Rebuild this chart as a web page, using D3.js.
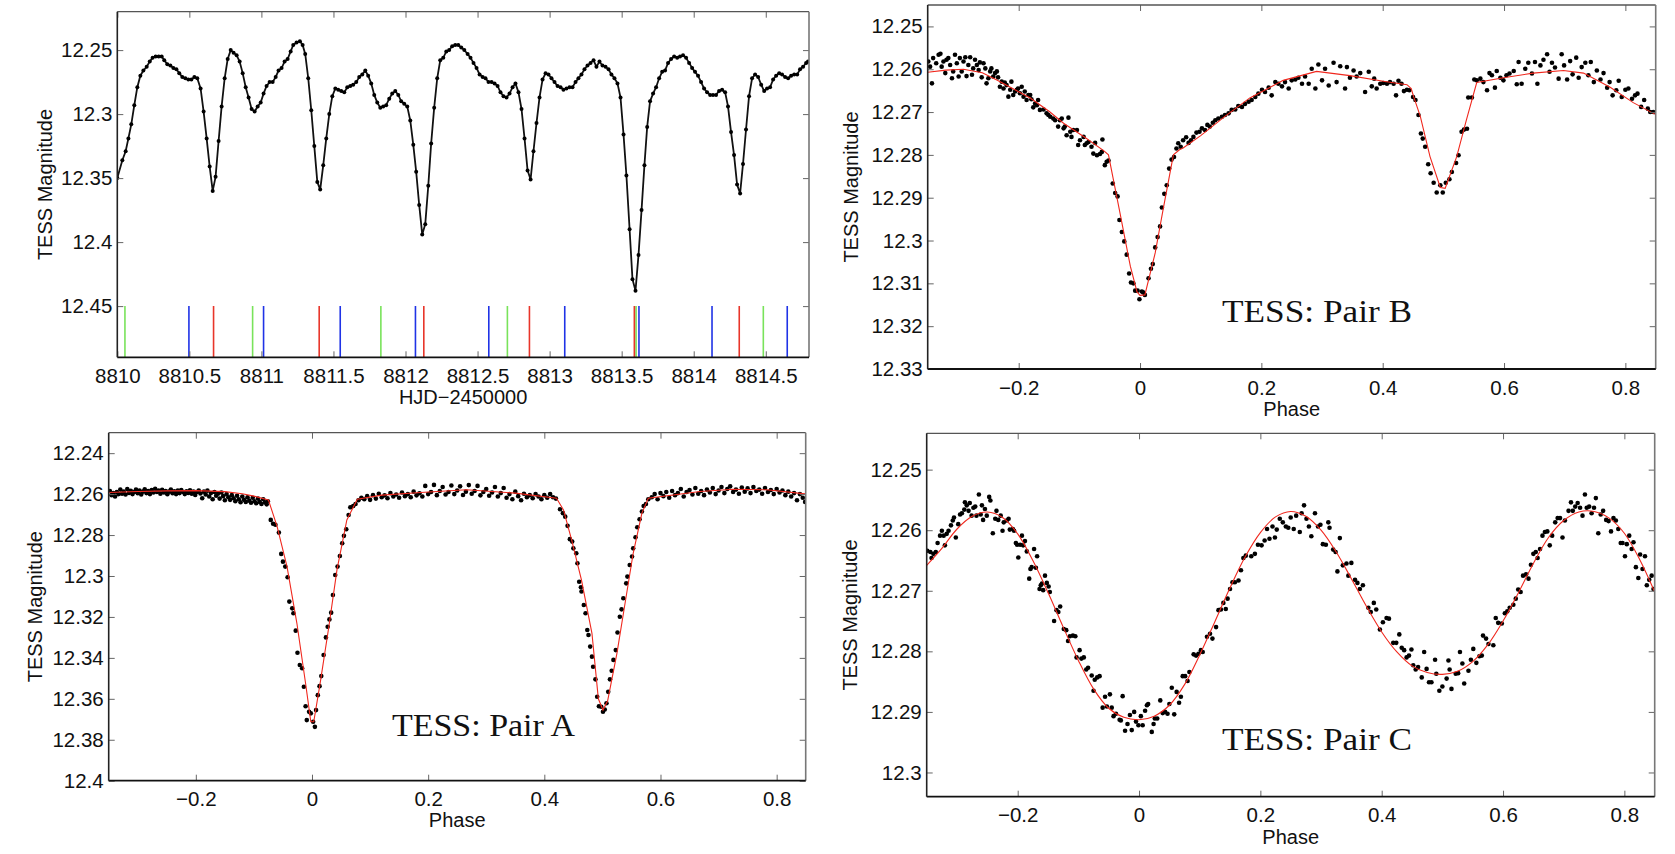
<!DOCTYPE html>
<html><head><meta charset="utf-8">
<script src="https://cdn.jsdelivr.net/npm/d3@7"></script>
<style>body{margin:0;background:#fff}svg{display:block}</style>
</head><body><svg id="c" width="1675" height="854"></svg>
<script>
// ---------- Top-left: light curve ----------
const lcTime = [8810.000,8810.035,8810.058,8810.077,8810.097,8810.118,8810.139,8810.160,8810.181,8810.204,8810.225,8810.245,8810.266,8810.287,8810.308,8810.326,8810.347,8810.368,8810.389,8810.410,8810.430,8810.451,8810.472,8810.493,8810.514,8810.535,8810.555,8810.578,8810.599,8810.620,8810.641,8810.662,8810.682,8810.703,8810.724,8810.745,8810.766,8810.787,8810.807,8810.828,8810.849,8810.870,8810.891,8810.911,8810.932,8810.953,8810.974,8810.995,8811.015,8811.036,8811.057,8811.078,8811.099,8811.119,8811.140,8811.161,8811.182,8811.203,8811.221,8811.244,8811.267,8811.286,8811.304,8811.325,8811.346,8811.367,8811.388,8811.408,8811.429,8811.450,8811.471,8811.492,8811.513,8811.533,8811.554,8811.575,8811.596,8811.617,8811.637,8811.658,8811.679,8811.700,8811.721,8811.741,8811.762,8811.783,8811.804,8811.825,8811.845,8811.866,8811.887,8811.908,8811.929,8811.950,8811.970,8811.991,8812.012,8812.033,8812.054,8812.074,8812.095,8812.116,8812.137,8812.158,8812.178,8812.199,8812.220,8812.241,8812.262,8812.283,8812.303,8812.324,8812.345,8812.366,8812.387,8812.408,8812.431,8812.451,8812.472,8812.493,8812.514,8812.535,8812.555,8812.576,8812.597,8812.618,8812.639,8812.659,8812.680,8812.701,8812.722,8812.743,8812.763,8812.784,8812.805,8812.826,8812.847,8812.868,8812.888,8812.909,8812.930,8812.951,8812.972,8812.992,8813.013,8813.034,8813.055,8813.076,8813.096,8813.117,8813.138,8813.159,8813.180,8813.200,8813.221,8813.242,8813.263,8813.284,8813.305,8813.325,8813.346,8813.367,8813.388,8813.409,8813.429,8813.450,8813.471,8813.492,8813.513,8813.533,8813.555,8813.575,8813.596,8813.617,8813.638,8813.658,8813.677,8813.697,8813.718,8813.739,8813.760,8813.781,8813.801,8813.822,8813.843,8813.864,8813.885,8813.905,8813.926,8813.947,8813.968,8813.989,8814.009,8814.030,8814.051,8814.072,8814.093,8814.114,8814.134,8814.155,8814.176,8814.197,8814.218,8814.238,8814.259,8814.280,8814.301,8814.322,8814.342,8814.363,8814.384,8814.405,8814.426,8814.447,8814.468,8814.489,8814.509,8814.530,8814.551,8814.572,8814.593,8814.613,8814.634,8814.655,8814.676,8814.697,8814.718,8814.738,8814.759,8814.780,8814.793];
const lcMag = [12.350,12.336,12.329,12.319,12.308,12.293,12.279,12.270,12.266,12.263,12.259,12.256,12.255,12.255,12.255,12.258,12.261,12.262,12.264,12.265,12.268,12.271,12.272,12.273,12.273,12.271,12.272,12.280,12.298,12.319,12.341,12.360,12.349,12.321,12.294,12.272,12.257,12.250,12.252,12.254,12.259,12.268,12.279,12.287,12.296,12.298,12.294,12.291,12.284,12.278,12.275,12.275,12.271,12.266,12.264,12.259,12.257,12.251,12.246,12.244,12.243,12.246,12.253,12.272,12.297,12.325,12.353,12.359,12.340,12.319,12.300,12.286,12.280,12.281,12.282,12.283,12.279,12.278,12.277,12.275,12.271,12.269,12.266,12.270,12.276,12.285,12.291,12.295,12.294,12.293,12.288,12.284,12.282,12.285,12.290,12.292,12.294,12.305,12.324,12.345,12.371,12.394,12.386,12.356,12.323,12.295,12.272,12.258,12.256,12.251,12.250,12.247,12.246,12.246,12.248,12.250,12.253,12.256,12.260,12.264,12.269,12.271,12.272,12.275,12.275,12.276,12.278,12.283,12.286,12.287,12.284,12.279,12.276,12.283,12.296,12.319,12.344,12.351,12.329,12.307,12.287,12.273,12.268,12.269,12.272,12.275,12.278,12.279,12.281,12.280,12.279,12.279,12.275,12.272,12.269,12.265,12.262,12.260,12.258,12.263,12.259,12.262,12.263,12.265,12.269,12.272,12.276,12.287,12.316,12.348,12.390,12.429,12.438,12.410,12.375,12.340,12.310,12.290,12.284,12.279,12.272,12.267,12.266,12.260,12.257,12.255,12.256,12.255,12.254,12.256,12.260,12.264,12.267,12.270,12.275,12.280,12.283,12.285,12.285,12.285,12.282,12.281,12.283,12.294,12.314,12.332,12.355,12.362,12.339,12.312,12.286,12.272,12.269,12.271,12.277,12.282,12.280,12.279,12.273,12.270,12.268,12.269,12.271,12.272,12.270,12.269,12.269,12.265,12.263,12.260,12.259];
const eclGreen = [8810.053,8810.939,8811.829,8812.707,8813.600,8814.483];
const eclBlue = [8810.497,8811.015,8811.547,8812.069,8812.578,8813.105,8813.620,8814.127,8814.649];
const eclRed = [8810.668,8811.401,8812.127,8812.860,8813.588,8814.316];
const lcXTicks = [8810,8810.5,8811,8811.5,8812,8812.5,8813,8813.5,8814,8814.5];
const lcXLabels = ["8810","8810.5","8811","8811.5","8812","8812.5","8813","8813.5","8814","8814.5"];
const lcYTicks = [12.25,12.3,12.35,12.4,12.45];
const lcYLabels = ["12.25","12.3","12.35","12.4","12.45"];

// ---------- Phase panels ----------
const phaseTicks = [-0.2,0,0.2,0.4,0.6,0.8];
const phaseLabels = ["\u22120.2","0","0.2","0.4","0.6","0.8"];

const pairBYTicks = [12.25,12.26,12.27,12.28,12.29,12.3,12.31,12.32,12.33];
const pairBYLabels = ["12.25","12.26","12.27","12.28","12.29","12.3","12.31","12.32","12.33"];
const pairBPoints = [[-0.349,12.2582],[-0.346,12.2594],[-0.343,12.2633],[-0.341,12.2574],[-0.336,12.2586],[-0.332,12.2566],[-0.329,12.2564],[-0.327,12.2594],[-0.324,12.2582],[-0.321,12.2609],[-0.319,12.2578],[-0.316,12.2574],[-0.313,12.259],[-0.310,12.2621],[-0.308,12.2605],[-0.305,12.2566],[-0.302,12.2586],[-0.299,12.2617],[-0.297,12.2574],[-0.294,12.2605],[-0.291,12.2582],[-0.288,12.2572],[-0.286,12.2616],[-0.283,12.259],[-0.280,12.2572],[-0.277,12.2613],[-0.275,12.2598],[-0.272,12.2578],[-0.269,12.259],[-0.266,12.2602],[-0.264,12.2584],[-0.261,12.2619],[-0.258,12.2586],[-0.255,12.2598],[-0.253,12.2633],[-0.250,12.2621],[-0.247,12.2605],[-0.245,12.2598],[-0.242,12.2617],[-0.239,12.2609],[-0.236,12.2605],[-0.234,12.2619],[-0.231,12.2641],[-0.228,12.2629],[-0.225,12.2645],[-0.223,12.2631],[-0.220,12.2637],[-0.217,12.2664],[-0.214,12.2648],[-0.212,12.2629],[-0.209,12.266],[-0.206,12.2652],[-0.203,12.2648],[-0.201,12.2645],[-0.198,12.2656],[-0.195,12.2641],[-0.192,12.2664],[-0.190,12.2652],[-0.187,12.2672],[-0.184,12.266],[-0.181,12.266],[-0.179,12.267],[-0.176,12.2689],[-0.173,12.268],[-0.170,12.2684],[-0.168,12.2672],[-0.165,12.2695],[-0.159,12.2694],[-0.154,12.2703],[-0.151,12.2707],[-0.148,12.2711],[-0.143,12.2715],[-0.140,12.2719],[-0.135,12.2734],[-0.132,12.2719],[-0.129,12.2715],[-0.126,12.2738],[-0.124,12.2734],[-0.121,12.2754],[-0.118,12.2713],[-0.115,12.2746],[-0.113,12.2758],[-0.110,12.2742],[-0.104,12.2742],[-0.102,12.2777],[-0.099,12.2766],[-0.093,12.2758],[-0.091,12.2777],[-0.088,12.2773],[-0.085,12.277],[-0.080,12.2781],[-0.077,12.2797],[-0.074,12.2772],[-0.071,12.2801],[-0.066,12.2798],[-0.063,12.2793],[-0.062,12.2764],[-0.058,12.2824],[-0.055,12.2816],[-0.052,12.2813],[-0.045,12.2867],[-0.041,12.2889],[-0.037,12.2897],[-0.034,12.2952],[-0.030,12.298],[-0.026,12.3002],[-0.022,12.3033],[-0.018,12.3077],[-0.015,12.3098],[-0.011,12.31],[-0.008,12.3117],[-0.004,12.3117],[-0.001,12.3137],[0.003,12.3119],[0.005,12.3121],[0.008,12.3127],[0.014,12.3088],[0.018,12.3066],[0.021,12.3055],[0.025,12.3016],[0.029,12.2992],[0.033,12.2967],[0.036,12.2923],[0.040,12.2891],[0.044,12.2871],[0.048,12.2832],[0.052,12.2811],[0.056,12.2805],[0.060,12.2785],[0.063,12.2773],[0.067,12.2781],[0.071,12.2766],[0.076,12.2759],[0.080,12.2772],[0.084,12.2766],[0.088,12.2758],[0.093,12.2748],[0.098,12.2746],[0.102,12.2738],[0.107,12.2742],[0.111,12.273],[0.115,12.2734],[0.120,12.2725],[0.124,12.2719],[0.129,12.2715],[0.135,12.2711],[0.140,12.2707],[0.146,12.2703],[0.151,12.2695],[0.157,12.2694],[0.162,12.2686],[0.168,12.2688],[0.173,12.2681],[0.179,12.2676],[0.184,12.2672],[0.190,12.2665],[0.195,12.2657],[0.201,12.2648],[0.206,12.2653],[0.212,12.2643],[0.217,12.2661],[0.223,12.263],[0.228,12.2634],[0.234,12.264],[0.239,12.263],[0.245,12.2645],[0.250,12.2626],[0.256,12.2624],[0.261,12.262],[0.267,12.2634],[0.272,12.2617],[0.278,12.2634],[0.283,12.2599],[0.289,12.2645],[0.294,12.2589],[0.300,12.2626],[0.305,12.2599],[0.311,12.2638],[0.319,12.2585],[0.324,12.263],[0.330,12.2593],[0.338,12.2645],[0.341,12.2595],[0.346,12.262],[0.352,12.2603],[0.357,12.2617],[0.363,12.2609],[0.371,12.2653],[0.377,12.2606],[0.382,12.264],[0.386,12.2622],[0.390,12.2645],[0.396,12.2634],[0.401,12.2632],[0.407,12.2634],[0.412,12.263],[0.418,12.2634],[0.422,12.2661],[0.426,12.2627],[0.431,12.2634],[0.435,12.2651],[0.440,12.2648],[0.444,12.2649],[0.450,12.2665],[0.454,12.2672],[0.459,12.2707],[0.463,12.275],[0.466,12.2762],[0.470,12.2781],[0.475,12.2822],[0.479,12.2843],[0.484,12.2865],[0.489,12.2888],[0.495,12.2871],[0.499,12.2888],[0.504,12.2865],[0.510,12.2857],[0.514,12.284],[0.521,12.2819],[0.525,12.2801],[0.530,12.2746],[0.534,12.2741],[0.539,12.2739],[0.541,12.2666],[0.547,12.2666],[0.551,12.2624],[0.555,12.2626],[0.561,12.2622],[0.566,12.263],[0.572,12.2649],[0.576,12.2609],[0.580,12.2614],[0.585,12.2643],[0.588,12.2604],[0.594,12.262],[0.599,12.2626],[0.604,12.2614],[0.609,12.261],[0.616,12.2604],[0.621,12.2635],[0.624,12.2583],[0.629,12.2634],[0.635,12.2599],[0.640,12.2585],[0.646,12.261],[0.651,12.2583],[0.655,12.2634],[0.660,12.2591],[0.665,12.2578],[0.671,12.2565],[0.675,12.2606],[0.679,12.2585],[0.684,12.2596],[0.690,12.2622],[0.695,12.2565],[0.699,12.2591],[0.704,12.2624],[0.709,12.2581],[0.713,12.2612],[0.719,12.2573],[0.723,12.262],[0.728,12.2595],[0.734,12.2585],[0.739,12.2614],[0.743,12.2583],[0.748,12.263],[0.753,12.2603],[0.759,12.2624],[0.764,12.2609],[0.770,12.2643],[0.774,12.263],[0.779,12.2661],[0.785,12.2649],[0.789,12.2627],[0.794,12.2665],[0.800,12.2648],[0.805,12.2645],[0.811,12.2669],[0.816,12.2661],[0.820,12.2657],[0.826,12.2688],[0.831,12.2672],[0.837,12.2692],[0.841,12.27],[0.846,12.27]];
const pairBModel = [[-0.35,12.2607],[-0.32,12.2602],[-0.291,12.2600],[-0.26,12.2608],[-0.236,12.2625],[-0.21,12.2645],[-0.181,12.2667],[-0.15,12.2698],[-0.126,12.2726],[-0.09,12.2760],[-0.06,12.2790],[-0.052,12.2800],[-0.045,12.2850],[-0.033,12.2936],[-0.016,12.3060],[-0.005,12.3120],[0.0,12.3128],[0.008,12.3127],[0.025,12.3029],[0.038,12.2928],[0.055,12.2800],[0.065,12.2788],[0.071,12.2784],[0.10,12.2755],[0.14,12.2710],[0.181,12.2667],[0.236,12.2626],[0.291,12.2605],[0.346,12.2615],[0.401,12.2628],[0.440,12.2636],[0.447,12.2645],[0.451,12.2664],[0.462,12.2710],[0.478,12.2804],[0.495,12.2876],[0.503,12.2878],[0.522,12.2804],[0.538,12.2718],[0.555,12.2631],[0.599,12.2620],[0.648,12.2609],[0.698,12.2603],[0.731,12.2609],[0.775,12.2642],[0.813,12.2678],[0.850,12.2706]];

const pairAYTicks = [12.24,12.26,12.28,12.3,12.32,12.34,12.36,12.38,12.4];
const pairAYLabels = ["12.24","12.26","12.28","12.3","12.32","12.34","12.36","12.38","12.4"];
const pairAPoints = [[-0.348,12.2585],[-0.345,12.2605],[-0.342,12.2595],[-0.339,12.2612],[-0.336,12.2590],[-0.333,12.2600],[-0.330,12.2578],[-0.327,12.2598],[-0.324,12.2588],[-0.321,12.2602],[-0.318,12.2575],[-0.315,12.2594],[-0.312,12.2584],[-0.309,12.2600],[-0.306,12.2590],[-0.303,12.2578],[-0.300,12.2596],[-0.297,12.2583],[-0.294,12.2602],[-0.291,12.2588],[-0.288,12.2576],[-0.285,12.2595],[-0.282,12.2585],[-0.279,12.2600],[-0.276,12.2580],[-0.273,12.2592],[-0.270,12.2574],[-0.267,12.2590],[-0.264,12.2583],[-0.261,12.2598],[-0.258,12.2579],[-0.255,12.2592],[-0.252,12.2585],[-0.249,12.2601],[-0.246,12.2588],[-0.243,12.2578],[-0.240,12.2596],[-0.237,12.2586],[-0.234,12.2600],[-0.231,12.2583],[-0.228,12.2595],[-0.225,12.2580],[-0.222,12.2590],[-0.219,12.2600],[-0.216,12.2586],[-0.213,12.2594],[-0.210,12.2581],[-0.207,12.2598],[-0.204,12.2588],[-0.201,12.2604],[-0.198,12.2590],[-0.195,12.2582],[-0.192,12.2597],[-0.189,12.2620],[-0.186,12.2588],[-0.183,12.2602],[-0.180,12.2583],[-0.177,12.2612],[-0.174,12.2595],[-0.171,12.2625],[-0.168,12.2590],[-0.165,12.2608],[-0.162,12.2598],[-0.159,12.2622],[-0.156,12.2592],[-0.153,12.2610],[-0.150,12.2630],[-0.147,12.2600],[-0.144,12.2615],[-0.141,12.2628],[-0.138,12.2605],[-0.135,12.2620],[-0.132,12.2635],[-0.129,12.2608],[-0.126,12.2625],[-0.123,12.2640],[-0.120,12.2612],[-0.117,12.2628],[-0.114,12.2638],[-0.111,12.2615],[-0.108,12.2632],[-0.105,12.2642],[-0.102,12.2618],[-0.099,12.2635],[-0.096,12.2645],[-0.093,12.2622],[-0.090,12.2638],[-0.087,12.2648],[-0.084,12.2625],[-0.081,12.2640],[-0.078,12.2650],[-0.076,12.2635],[-0.071,12.2726],[-0.067,12.2745],[-0.063,12.2750],[-0.057,12.2788],[-0.053,12.2892],[-0.050,12.2930],[-0.046,12.2954],[-0.042,12.3006],[-0.039,12.3125],[-0.034,12.3158],[-0.032,12.3182],[-0.028,12.3267],[-0.025,12.3375],[-0.021,12.3435],[-0.017,12.3451],[-0.014,12.3541],[-0.011,12.3636],[-0.009,12.3704],[-0.005,12.3663],[-0.002,12.3671],[0.002,12.3712],[0.005,12.3737],[0.007,12.3655],[0.010,12.3582],[0.013,12.3538],[0.016,12.3489],[0.020,12.3386],[0.024,12.3300],[0.027,12.3248],[0.030,12.3212],[0.033,12.3179],[0.036,12.3093],[0.040,12.2995],[0.044,12.2954],[0.048,12.2902],[0.052,12.2840],[0.055,12.2804],[0.059,12.2772],[0.063,12.2702],[0.066,12.2664],[0.071,12.2658],[0.075,12.2648],[0.080,12.2630],[0.085,12.2618],[0.090,12.2625],[0.095,12.2610],[0.100,12.2628],[0.105,12.2605],[0.110,12.2622],[0.115,12.2598],[0.120,12.2615],[0.125,12.2606],[0.130,12.2620],[0.135,12.2595],[0.140,12.2612],[0.145,12.2602],[0.150,12.2618],[0.155,12.2592],[0.160,12.2610],[0.165,12.2600],[0.170,12.2615],[0.175,12.2588],[0.180,12.2606],[0.185,12.2596],[0.190,12.2612],[0.195,12.2560],[0.200,12.2600],[0.205,12.2590],[0.210,12.2555],[0.215,12.2605],[0.220,12.2585],[0.225,12.2565],[0.230,12.2602],[0.235,12.2590],[0.240,12.2558],[0.245,12.2600],[0.250,12.2582],[0.255,12.2562],[0.260,12.2604],[0.265,12.2588],[0.270,12.2556],[0.275,12.2598],[0.280,12.2585],[0.285,12.2560],[0.290,12.2606],[0.295,12.2590],[0.300,12.2575],[0.305,12.2608],[0.310,12.2592],[0.315,12.2565],[0.320,12.2612],[0.325,12.2595],[0.330,12.2570],[0.335,12.2618],[0.340,12.2600],[0.345,12.2625],[0.350,12.2588],[0.355,12.2610],[0.360,12.2630],[0.365,12.2598],[0.370,12.2615],[0.375,12.2605],[0.380,12.2620],[0.385,12.2600],[0.390,12.2612],[0.395,12.2625],[0.400,12.2605],[0.405,12.2618],[0.410,12.2600],[0.415,12.2615],[0.420,12.2622],[0.427,12.2674],[0.432,12.2693],[0.436,12.2710],[0.440,12.2755],[0.444,12.2820],[0.448,12.2832],[0.450,12.2865],[0.455,12.2889],[0.457,12.2938],[0.460,12.3028],[0.463,12.3055],[0.464,12.3076],[0.468,12.3142],[0.471,12.3182],[0.474,12.3264],[0.476,12.3288],[0.479,12.3345],[0.482,12.3394],[0.484,12.3443],[0.488,12.3505],[0.491,12.3590],[0.494,12.3636],[0.498,12.3639],[0.501,12.3663],[0.504,12.3652],[0.507,12.3622],[0.510,12.3566],[0.513,12.3505],[0.516,12.3463],[0.519,12.3410],[0.523,12.3362],[0.526,12.3276],[0.530,12.3199],[0.533,12.3163],[0.536,12.3109],[0.541,12.3036],[0.543,12.3003],[0.547,12.2946],[0.551,12.2905],[0.553,12.2865],[0.557,12.2811],[0.560,12.2762],[0.564,12.2723],[0.568,12.2685],[0.571,12.2658],[0.575,12.2648],[0.579,12.2625],[0.585,12.2615],[0.590,12.2600],[0.595,12.2625],[0.600,12.2595],[0.605,12.2610],[0.610,12.2590],[0.615,12.2618],[0.620,12.2585],[0.625,12.2605],[0.630,12.2595],[0.635,12.2575],[0.640,12.2612],[0.645,12.2590],[0.650,12.2580],[0.655,12.2602],[0.660,12.2570],[0.665,12.2598],[0.670,12.2585],[0.675,12.2605],[0.680,12.2578],[0.685,12.2592],[0.690,12.2570],[0.695,12.2600],[0.700,12.2582],[0.705,12.2565],[0.710,12.2595],[0.715,12.2575],[0.720,12.2562],[0.725,12.2590],[0.730,12.2578],[0.735,12.2598],[0.740,12.2568],[0.745,12.2588],[0.750,12.2572],[0.755,12.2595],[0.760,12.2565],[0.765,12.2585],[0.770,12.2578],[0.775,12.2598],[0.780,12.2570],[0.785,12.2590],[0.790,12.2580],[0.795,12.2600],[0.800,12.2575],[0.805,12.2592],[0.810,12.2582],[0.815,12.2605],[0.820,12.2588],[0.825,12.2612],[0.830,12.2595],[0.835,12.2630],[0.840,12.2600],[0.845,12.2618],[0.849,12.2638]];
const pairAModel = [[-0.35,12.2592],[-0.30,12.2587],[-0.25,12.2584],[-0.20,12.2583],[-0.15,12.2588],[-0.12,12.2598],[-0.10,12.2610],[-0.075,12.2628],[-0.060,12.2759],[-0.043,12.2954],[-0.026,12.3231],[-0.011,12.3525],[-0.002,12.3712],[0.003,12.3712],[0.014,12.3525],[0.029,12.3248],[0.043,12.2970],[0.060,12.2726],[0.078,12.2625],[0.12,12.2605],[0.187,12.2592],[0.266,12.2579],[0.35,12.2595],[0.421,12.2620],[0.433,12.2677],[0.447,12.2824],[0.464,12.3020],[0.482,12.3280],[0.493,12.3600],[0.501,12.3655],[0.509,12.3610],[0.525,12.3378],[0.539,12.3133],[0.553,12.2889],[0.568,12.2693],[0.579,12.2620],[0.668,12.2587],[0.726,12.2576],[0.783,12.2579],[0.849,12.2599]];

const pairCYTicks = [12.25,12.26,12.27,12.28,12.29,12.3];
const pairCYLabels = ["12.25","12.26","12.27","12.28","12.29","12.3"];
const pairCPoints = [[-0.349,12.2634],[-0.344,12.2636],[-0.342,12.2646],[-0.339,12.2639],[-0.335,12.2636],[-0.332,12.2621],[-0.328,12.2609],[-0.325,12.2601],[-0.322,12.2609],[-0.320,12.2625],[-0.317,12.2606],[-0.314,12.2601],[-0.310,12.2592],[-0.307,12.2584],[-0.305,12.2579],[-0.302,12.2612],[-0.298,12.259],[-0.295,12.2574],[-0.292,12.2572],[-0.288,12.2566],[-0.287,12.2554],[-0.284,12.2559],[-0.281,12.2568],[-0.279,12.2555],[-0.276,12.2576],[-0.273,12.2563],[-0.270,12.2561],[-0.268,12.2576],[-0.264,12.2541],[-0.261,12.2574],[-0.259,12.2559],[-0.257,12.2583],[-0.254,12.2565],[-0.251,12.2576],[-0.247,12.2545],[-0.245,12.2551],[-0.241,12.2605],[-0.237,12.2581],[-0.235,12.2568],[-0.232,12.2583],[-0.228,12.2576],[-0.225,12.2601],[-0.223,12.2587],[-0.218,12.2584],[-0.215,12.2581],[-0.213,12.2599],[-0.208,12.2598],[-0.206,12.2601],[-0.203,12.2621],[-0.201,12.2624],[-0.199,12.2645],[-0.196,12.2624],[-0.193,12.2609],[-0.191,12.2625],[-0.188,12.2618],[-0.185,12.2635],[-0.181,12.268],[-0.179,12.2664],[-0.177,12.2661],[-0.173,12.2631],[-0.170,12.2662],[-0.168,12.2643],[-0.164,12.2697],[-0.162,12.2691],[-0.160,12.2688],[-0.158,12.2699],[-0.155,12.2675],[-0.152,12.2687],[-0.149,12.2693],[-0.147,12.2702],[-0.140,12.275],[-0.136,12.2732],[-0.133,12.2735],[-0.130,12.2726],[-0.124,12.2763],[-0.120,12.2765],[-0.117,12.2783],[-0.114,12.2775],[-0.109,12.2774],[-0.105,12.2775],[-0.103,12.281],[-0.098,12.2798],[-0.095,12.2812],[-0.091,12.281],[-0.087,12.283],[-0.084,12.2827],[-0.078,12.284],[-0.075,12.2865],[-0.073,12.2847],[-0.069,12.2843],[-0.065,12.2841],[-0.060,12.2893],[-0.056,12.2875],[-0.053,12.2891],[-0.048,12.2871],[-0.045,12.2893],[-0.042,12.2907],[-0.038,12.2903],[-0.032,12.2913],[-0.030,12.2914],[-0.027,12.2874],[-0.023,12.2931],[-0.019,12.292],[-0.015,12.2905],[-0.012,12.293],[-0.008,12.29],[-0.005,12.2916],[-0.001,12.2922],[0.003,12.2907],[0.006,12.2922],[0.010,12.2898],[0.013,12.2889],[0.015,12.2887],[0.021,12.2933],[0.024,12.292],[0.026,12.2911],[0.030,12.2911],[0.035,12.2881],[0.039,12.2902],[0.043,12.29],[0.047,12.2903],[0.050,12.2887],[0.054,12.286],[0.058,12.2904],[0.062,12.2867],[0.066,12.2885],[0.069,12.2875],[0.072,12.2841],[0.076,12.2841],[0.080,12.2849],[0.083,12.2834],[0.090,12.2805],[0.094,12.2807],[0.098,12.2804],[0.102,12.2798],[0.105,12.2801],[0.112,12.2776],[0.117,12.2771],[0.121,12.2779],[0.127,12.276],[0.131,12.2732],[0.135,12.2731],[0.139,12.272],[0.143,12.273],[0.146,12.2713],[0.150,12.2697],[0.154,12.2686],[0.158,12.2686],[0.164,12.2683],[0.168,12.2666],[0.172,12.2646],[0.176,12.2642],[0.185,12.2643],[0.191,12.2639],[0.196,12.2624],[0.202,12.2625],[0.207,12.2617],[0.211,12.2598],[0.215,12.2614],[0.220,12.2594],[0.224,12.2612],[0.227,12.2599],[0.232,12.2581],[0.237,12.2587],[0.242,12.2594],[0.246,12.2596],[0.250,12.2579],[0.255,12.2598],[0.259,12.2576],[0.265,12.2603],[0.268,12.2572],[0.272,12.2559],[0.276,12.2581],[0.280,12.2594],[0.284,12.261],[0.290,12.2572],[0.295,12.2594],[0.299,12.2591],[0.303,12.2623],[0.308,12.2624],[0.312,12.2587],[0.314,12.2596],[0.320,12.2632],[0.324,12.2636],[0.327,12.2668],[0.331,12.2613],[0.336,12.2658],[0.342,12.2655],[0.345,12.2675],[0.350,12.2654],[0.356,12.2682],[0.360,12.2687],[0.364,12.2697],[0.369,12.2691],[0.378,12.2728],[0.382,12.2735],[0.387,12.272],[0.391,12.2731],[0.397,12.2764],[0.402,12.2752],[0.408,12.2745],[0.412,12.2746],[0.419,12.2786],[0.424,12.2786],[0.429,12.2772],[0.433,12.2794],[0.437,12.2798],[0.441,12.281],[0.445,12.2807],[0.449,12.2797],[0.452,12.2823],[0.456,12.283],[0.460,12.2826],[0.466,12.2843],[0.470,12.2801],[0.474,12.2829],[0.478,12.2851],[0.482,12.2851],[0.488,12.2814],[0.490,12.2837],[0.495,12.2865],[0.500,12.2858],[0.507,12.2845],[0.510,12.2815],[0.512,12.283],[0.515,12.2862],[0.522,12.2837],[0.526,12.2836],[0.529,12.2801],[0.533,12.282],[0.536,12.2853],[0.543,12.2832],[0.547,12.2814],[0.551,12.2796],[0.556,12.2819],[0.561,12.2808],[0.565,12.2807],[0.567,12.2774],[0.572,12.2779],[0.576,12.2788],[0.584,12.279],[0.588,12.2745],[0.592,12.2753],[0.598,12.2754],[0.603,12.2737],[0.607,12.2734],[0.611,12.2728],[0.617,12.2723],[0.621,12.2713],[0.625,12.2698],[0.629,12.2702],[0.633,12.2675],[0.638,12.2673],[0.642,12.268],[0.646,12.2657],[0.650,12.2639],[0.654,12.2636],[0.657,12.2646],[0.661,12.2631],[0.665,12.2609],[0.669,12.2603],[0.673,12.2602],[0.677,12.2625],[0.681,12.2609],[0.686,12.2587],[0.690,12.258],[0.694,12.258],[0.698,12.2612],[0.702,12.2584],[0.708,12.2568],[0.712,12.2554],[0.715,12.2568],[0.719,12.2561],[0.723,12.2555],[0.727,12.2563],[0.731,12.2576],[0.735,12.2541],[0.738,12.2563],[0.742,12.2561],[0.746,12.2572],[0.750,12.2563],[0.753,12.2547],[0.757,12.2605],[0.761,12.2574],[0.765,12.2568],[0.770,12.2583],[0.774,12.2585],[0.778,12.2602],[0.782,12.258],[0.786,12.2584],[0.790,12.2598],[0.794,12.2621],[0.797,12.2621],[0.801,12.2643],[0.804,12.2623],[0.808,12.2609],[0.812,12.2631],[0.815,12.262],[0.819,12.2661],[0.823,12.2679],[0.826,12.264],[0.830,12.2664],[0.834,12.2643],[0.837,12.2691],[0.841,12.2682],[0.845,12.2675],[0.848,12.2697]];
const pairCModel = [[-0.35,12.2658],[-0.325,12.2630],[-0.30,12.2598],[-0.275,12.2577],[-0.25,12.2570],[-0.225,12.2579],[-0.20,12.2606],[-0.175,12.2650],[-0.15,12.2703],[-0.125,12.2760],[-0.10,12.2815],[-0.075,12.2862],[-0.05,12.2894],[-0.025,12.2909],[0,12.2913],[0.025,12.2907],[0.05,12.2889],[0.075,12.2855],[0.10,12.2806],[0.125,12.2751],[0.15,12.2695],[0.175,12.2644],[0.20,12.2604],[0.225,12.2578],[0.25,12.2569],[0.275,12.2577],[0.30,12.2600],[0.325,12.2636],[0.35,12.2680],[0.375,12.2726],[0.40,12.2768],[0.425,12.2801],[0.45,12.2824],[0.475,12.2835],[0.50,12.2838],[0.525,12.2833],[0.55,12.2817],[0.575,12.2789],[0.60,12.2750],[0.625,12.2704],[0.65,12.2655],[0.675,12.2612],[0.70,12.2584],[0.725,12.2570],[0.75,12.2569],[0.775,12.2580],[0.80,12.2605],[0.825,12.2648],[0.85,12.2702]];

// ---------- drawing ----------
const svg = d3.select('#c');
const SANS = '"Liberation Sans", Arial, Helvetica, sans-serif';
const SERIF = '"Liberation Serif", "Times New Roman", serif';

function makePanel(p) {
  const x = d3.scaleLinear().domain(p.xDomain).range([p.left, p.right]);
  const y = d3.scaleLinear().domain(p.yDomain).range([p.top, p.bottom]);
  const g = svg.append('g');
  const cid = 'clip' + p.id;
  svg.append('defs').append('clipPath').attr('id', cid).append('rect')
    .attr('x', p.left).attr('y', p.top).attr('width', p.right - p.left).attr('height', p.bottom - p.top);
  const plot = g.append('g').attr('clip-path', `url(#${cid})`);
  const axes = g.append('g');
  axes.append('g').attr('transform', `translate(0,${p.bottom})`)
    .call(d3.axisBottom(x).tickValues(p.xTicks).tickFormat((d, i) => p.xLabels[i]).tickSizeInner(-6).tickSizeOuter(0).tickPadding(11));
  axes.append('g').attr('transform', `translate(0,${p.top})`)
    .call(d3.axisTop(x).tickValues(p.xTicks).tickFormat(() => '').tickSizeInner(-6).tickSizeOuter(0));
  axes.append('g').attr('transform', `translate(${p.left},0)`)
    .call(d3.axisLeft(y).tickValues(p.yTicks).tickFormat((d, i) => p.yLabels[i]).tickSizeInner(-6).tickSizeOuter(0).tickPadding(5));
  axes.append('g').attr('transform', `translate(${p.right},0)`)
    .call(d3.axisRight(y).tickValues(p.yTicks).tickFormat(() => '').tickSizeInner(-6).tickSizeOuter(0));
  axes.selectAll('.domain').remove();
  axes.selectAll('.tick line').attr('stroke', '#666').attr('stroke-width', 1);
  axes.selectAll('.tick text').attr('font-size', 20.5).attr('font-family', SANS).attr('fill', '#111');
  // box
  axes.append('line').attr('x1', p.left).attr('x2', p.right).attr('y1', p.top).attr('y2', p.top).attr('stroke', '#555').attr('stroke-width', 1.3);
  axes.append('line').attr('x1', p.right).attr('x2', p.right).attr('y1', p.top).attr('y2', p.bottom).attr('stroke', '#777').attr('stroke-width', 1.6);
  axes.append('line').attr('x1', p.left).attr('x2', p.right).attr('y1', p.bottom).attr('y2', p.bottom).attr('stroke', '#111').attr('stroke-width', 1.8);
  axes.append('line').attr('x1', p.left).attr('x2', p.left).attr('y1', p.top).attr('y2', p.bottom).attr('stroke', '#222').attr('stroke-width', 1.6);
  // titles
  svg.append('text').attr('x', (p.left + p.right) / 2).attr('y', p.xTitleY).attr('text-anchor', 'middle')
    .attr('dominant-baseline', 'central').attr('font-family', SANS).attr('font-size', 20).attr('fill', '#111').text(p.xTitle);
  svg.append('text').attr('transform', `translate(${p.yTitleX},${(p.top + p.bottom) / 2}) rotate(-90)`)
    .attr('text-anchor', 'middle').attr('dominant-baseline', 'central').attr('font-family', SANS)
    .attr('font-size', 20).attr('fill', '#111').text('TESS Magnitude');
  return {x, y, plot, g};
}

// Panel 1: light curve
{
  const P = makePanel({id: 1, left: 117.3, right: 809, top: 11.7, bottom: 357.3,
    xDomain: [8810, 8814.8], yDomain: [12.22, 12.49],
    xTicks: lcXTicks, xLabels: lcXLabels, yTicks: lcYTicks, yLabels: lcYLabels,
    xTitle: 'HJD\u22122450000', xTitleY: 397, yTitleX: 45});
  const pts = lcTime.map((t, i) => [t, lcMag[i]]);
  const line = d3.line().x(d => P.x(d[0])).y(d => P.y(d[1]));
  P.plot.append('path').datum(pts).attr('d', line).attr('fill', 'none').attr('stroke', '#111').attr('stroke-width', 1.8);
  P.plot.selectAll('circle.lc').data(pts).join('circle').attr('class', 'lc')
    .attr('cx', d => P.x(d[0])).attr('cy', d => P.y(d[1])).attr('r', 2.0).attr('fill', '#000');
  const marks = [[eclGreen, '#79e35b'], [eclBlue, '#1f33e6'], [eclRed, '#e8352a']];
  marks.forEach(([arr, col]) => {
    P.plot.selectAll(null).data(arr).join('line')
      .attr('x1', d => P.x(d)).attr('x2', d => P.x(d))
      .attr('y1', P.y(12.45)).attr('y2', P.y(12.49))
      .attr('stroke', col).attr('stroke-width', 1.6);
  });
}

function phasePanel(cfg, points, model, label, curve) {
  const P = makePanel(Object.assign({xDomain: [-0.35, 0.85], xTicks: phaseTicks, xLabels: phaseLabels, xTitle: 'Phase'}, cfg));
  P.plot.selectAll('circle.pt').data(points).join('circle').attr('class', 'pt')
    .attr('cx', d => P.x(d[0])).attr('cy', d => P.y(d[1])).attr('r', 2.3).attr('fill', '#000');
  const line = d3.line().x(d => P.x(d[0])).y(d => P.y(d[1])).curve(curve);
  P.plot.append('path').datum(model).attr('d', line).attr('fill', 'none').attr('stroke', '#f0281e').attr('stroke-width', 1.1);
  svg.append('text').attr('x', label.x).attr('y', label.y).attr('font-family', SERIF).attr('font-size', 32)
    .attr('fill', '#111').attr('textLength', label.w).attr('lengthAdjust', 'spacingAndGlyphs').text(label.text);
}

phasePanel({id: 2, left: 927.7, right: 1655.7, top: 5, bottom: 369, yDomain: [12.245, 12.33],
  yTicks: pairBYTicks, yLabels: pairBYLabels, xTitleY: 408.5, yTitleX: 850.7},
  pairBPoints, pairBModel, {x: 1222, y: 321.5, w: 190, text: 'TESS: Pair B'}, d3.curveLinear);

phasePanel({id: 3, left: 108.7, right: 805.7, top: 432.7, bottom: 780.7, yDomain: [12.23, 12.40],
  yTicks: pairAYTicks, yLabels: pairAYLabels, xTitleY: 820, yTitleX: 35},
  pairAPoints, pairAModel, {x: 392, y: 736, w: 183, text: 'TESS: Pair A'}, d3.curveLinear);

phasePanel({id: 4, left: 926.7, right: 1654.7, top: 433.3, bottom: 796.7, yDomain: [12.244, 12.304],
  yTicks: pairCYTicks, yLabels: pairCYLabels, xTitleY: 837, yTitleX: 850},
  pairCPoints, pairCModel, {x: 1222, y: 750, w: 190, text: 'TESS: Pair C'}, d3.curveCatmullRom);
</script></body></html>
